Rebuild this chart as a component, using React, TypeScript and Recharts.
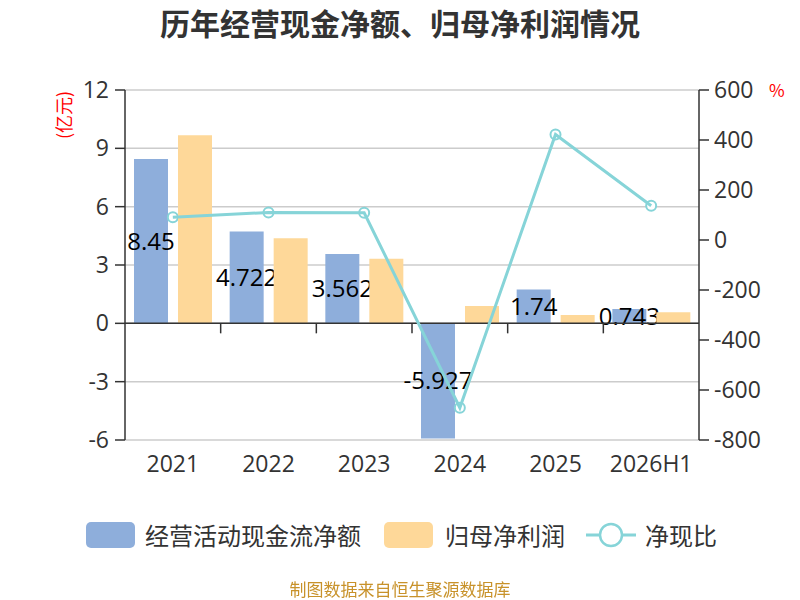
import { ComposedChart, Bar, Line, XAxis, YAxis, CartesianGrid, ReferenceLine, LabelList } from 'recharts'

const years = ['2021', '2022', '2023', '2024', '2025', '2026H1']
const cashFlow = [8.45, 4.722, 3.562, -5.927, 1.74, 0.743]
const netProfit = [9.67, 4.37, 3.32, 0.89, 0.43, 0.57]
const cashRatio = [91, 110, 109, -671, 422, 137]
const leftTicks = [-6, -3, 0, 3, 6, 9, 12]
const rightTicks = [-800, -600, -400, -200, 0, 200, 400, 600]

const data = years.map((y, i) => ({
  year: y,
  cash: cashFlow[i],
  profit: netProfit[i],
  ratio: cashRatio[i],
}))

const FONT = '"Noto Sans CJK SC", "Noto Sans", sans-serif'
const NUM_FONT = '"Open Sans", "Noto Sans", sans-serif'
const BLUE = '#8eaedb'
const ORANGE = '#fed899'
const TEAL = '#86d4d8'
const AXIS = '#333'

// zero axis line with small tick marks at the category borders
const ZeroAxis = (props: any) => {
  const { x1, y1, x2 } = props
  const step = (x2 - x1) / years.length
  return (
    <g>
      <line x1={x1} y1={y1} x2={x2} y2={y1} stroke={AXIS} strokeWidth={1.5} />
      {years.slice(1).map((_, i) => (
        <line key={i} x1={x1 + step * (i + 1)} y1={y1} x2={x1 + step * (i + 1)} y2={y1 + 10} stroke={AXIS} strokeWidth={1.5} />
      ))}
    </g>
  )
}

export default function App() {
  return (
    <div style={{ position: 'fixed', left: 0, top: 0, width: 800, height: 600, background: '#fff', fontFamily: FONT }}>
      <div style={{ position: 'absolute', top: 2, width: 800, textAlign: 'center', fontSize: 30, fontWeight: 'bold', color: '#333', lineHeight: '40px' }}>
        历年经营现金净额、归母净利润情况
      </div>
      <div style={{ position: 'absolute', left: 63, top: 115, transform: 'translate(-50%, -50%) rotate(-90deg)', color: 'red', fontSize: 18, whiteSpace: 'nowrap' }}>
        (亿元)
      </div>
      <div style={{ position: 'absolute', left: 769, top: 77, color: 'red', fontSize: 17 }}>%</div>

      <ComposedChart
        width={800}
        height={600}
        data={data}
        margin={{ top: 90, right: 0, left: 0, bottom: 130 }}
        barCategoryGap={9}
        barGap={10}
        style={{ fontFamily: NUM_FONT }}
      >
        <CartesianGrid yAxisId="left" vertical={false} stroke="#ccc" strokeWidth={1.5} />
        <XAxis
          dataKey="year"
          axisLine={false}
          tickLine={false}
          height={30}
          tickMargin={10}
          tick={{ fill: AXIS, fontSize: 23, fontFamily: NUM_FONT }}
        />
        <YAxis
          yAxisId="left"
          width={125}
          domain={[-6, 12]}
          ticks={leftTicks}
          interval={0}
          tickSize={10}
          tickMargin={6}
          axisLine={{ stroke: AXIS, strokeWidth: 1.5 }}
          tickLine={{ stroke: AXIS, strokeWidth: 1.5 }}
          tick={{ fill: AXIS, fontSize: 23, fontFamily: NUM_FONT }}
        />
        <YAxis
          yAxisId="right"
          orientation="right"
          width={101}
          domain={[-800, 600]}
          ticks={rightTicks}
          interval={0}
          tickSize={10}
          tickMargin={5}
          axisLine={{ stroke: AXIS, strokeWidth: 1.5 }}
          tickLine={{ stroke: AXIS, strokeWidth: 1.5 }}
          tick={{ fill: AXIS, fontSize: 23, fontFamily: NUM_FONT }}
        />
        <Bar yAxisId="left" dataKey="cash" fill={BLUE} isAnimationActive={false}>
          <LabelList dataKey="cash" position="center" fill="#000" fontSize={24} fontFamily={NUM_FONT} />
        </Bar>
        <Bar yAxisId="left" dataKey="profit" fill={ORANGE} isAnimationActive={false} zIndex={2100} />
        <ReferenceLine yAxisId="left" y={0} shape={ZeroAxis} zIndex={2150} />
        <Line
          yAxisId="right"
          dataKey="ratio"
          stroke={TEAL}
          strokeWidth={3}
          dot={{ r: 5, fill: '#fff', stroke: TEAL, strokeWidth: 2 }}
          isAnimationActive={false}
          zIndex={2200}
        />
      </ComposedChart>

      <div style={{ position: 'absolute', top: 520, left: 0, width: 800, height: 30, fontSize: 24, color: '#333' }}>
        <div style={{ position: 'absolute', left: 86, top: 2, width: 49, height: 26, borderRadius: 5, background: BLUE }} />
        <div style={{ position: 'absolute', left: 145, top: 0, lineHeight: '30px' }}>经营活动现金流净额</div>
        <div style={{ position: 'absolute', left: 384, top: 2, width: 49, height: 26, borderRadius: 5, background: ORANGE }} />
        <div style={{ position: 'absolute', left: 445, top: 0, lineHeight: '30px' }}>归母净利润</div>
        <svg style={{ position: 'absolute', left: 584, top: 0 }} width={54} height={30}>
          <line x1={2} y1={15} x2={52} y2={15} stroke={TEAL} strokeWidth={3} />
          <circle cx={27} cy={15} r={11} fill="#fff" stroke={TEAL} strokeWidth={2.5} />
        </svg>
        <div style={{ position: 'absolute', left: 645, top: 0, lineHeight: '30px' }}>净现比</div>
      </div>

      <div style={{ position: 'absolute', top: 577, width: 800, textAlign: 'center', fontSize: 17, color: '#c8922a', lineHeight: '24px' }}>
        制图数据来自恒生聚源数据库
      </div>
    </div>
  )
}
